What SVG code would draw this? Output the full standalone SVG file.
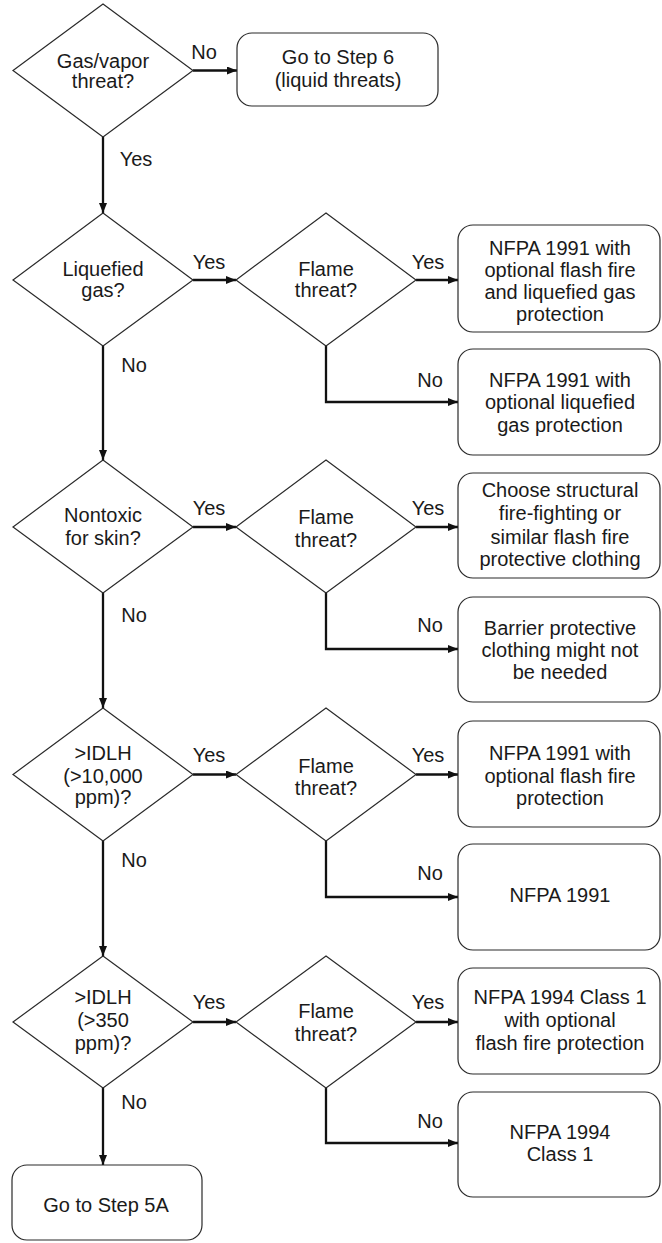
<svg xmlns="http://www.w3.org/2000/svg" width="662" height="1243" viewBox="0 0 662 1243">
  <defs>
    <marker id="arrow" markerUnits="userSpaceOnUse" markerWidth="10" markerHeight="8" refX="10" refY="4" orient="auto">
      <path d="M0,0 L10,4 L0,8 Z" fill="#111"/>
    </marker>
    <style>
      .shape { fill: #fff; stroke: #2a2a2a; stroke-width: 1.2; }
      .conn { fill: none; stroke: #111; stroke-width: 2.3; marker-end: url(#arrow); }
      text { font-family: "Liberation Sans", Arial, sans-serif; font-size: 20px; fill: #1a1a1a; text-anchor: middle; }
    </style>
  </defs>
  <rect width="662" height="1243" fill="#fff"/>

  <!-- connectors -->
  <g id="connectors">
    <line class="conn" x1="193" y1="70.5" x2="237" y2="70.5"/>
    <text x="204" y="59">No</text>
    <line class="conn" x1="103" y1="137" x2="103" y2="213"/>
    <text x="136" y="166">Yes</text>

    <line class="conn" x1="193" y1="280" x2="236" y2="280"/>
    <text x="209" y="269">Yes</text>
    <line class="conn" x1="416" y1="280" x2="458" y2="280"/>
    <text x="428" y="269">Yes</text>
    <path class="conn" d="M326,346 V402 H458"/>
    <text x="430" y="387">No</text>
    <line class="conn" x1="103" y1="346" x2="103" y2="460"/>
    <text x="134" y="372">No</text>

    <line class="conn" x1="193" y1="527" x2="236" y2="527"/>
    <text x="209" y="515">Yes</text>
    <line class="conn" x1="416" y1="527" x2="458" y2="527"/>
    <text x="428" y="515">Yes</text>
    <path class="conn" d="M326,593 V649 H458"/>
    <text x="430" y="632">No</text>
    <line class="conn" x1="103" y1="593" x2="103" y2="708"/>
    <text x="134" y="622">No</text>

    <line class="conn" x1="193" y1="774.5" x2="236" y2="774.5"/>
    <text x="209" y="762">Yes</text>
    <line class="conn" x1="416" y1="774.5" x2="458" y2="774.5"/>
    <text x="428" y="762">Yes</text>
    <path class="conn" d="M326,841 V897 H458"/>
    <text x="430" y="880">No</text>
    <line class="conn" x1="103" y1="841" x2="103" y2="956"/>
    <text x="134" y="867">No</text>

    <line class="conn" x1="193" y1="1022" x2="236" y2="1022"/>
    <text x="209" y="1009">Yes</text>
    <line class="conn" x1="416" y1="1022" x2="458" y2="1022"/>
    <text x="428" y="1009">Yes</text>
    <path class="conn" d="M326,1088 V1143 H458"/>
    <text x="430" y="1128">No</text>
    <line class="conn" x1="103" y1="1088" x2="103" y2="1165"/>
    <text x="134" y="1109">No</text>
  </g>

  <!-- decision: gas/vapor -->
  <g id="d-gas">
    <polygon class="shape" points="103,4 193,70.5 103,137 13,70.5"/>
    <text x="103" y="68">Gas/vapor</text>
    <text x="103" y="88">threat?</text>
  </g>
  <g id="t-step6">
    <rect class="shape" x="237" y="33" width="201" height="73" rx="15"/>
    <text x="338" y="64">Go to Step 6</text>
    <text x="338" y="87">(liquid threats)</text>
  </g>

  <!-- row: liquefied gas -->
  <g id="d-liquefied">
    <polygon class="shape" points="103,213 193,280 103,346 13,280"/>
    <text x="103" y="276">Liquefied</text>
    <text x="103" y="297">gas?</text>
  </g>
  <g id="d-flame1">
    <polygon class="shape" points="326,213 416,280 326,346 236,280"/>
    <text x="326" y="276">Flame</text>
    <text x="326" y="297">threat?</text>
  </g>
  <g id="r-1991-flash-liq">
    <rect class="shape" x="458" y="225" width="202" height="107" rx="15"/>
    <text x="560" y="255">NFPA 1991 with</text>
    <text x="560" y="277">optional flash fire</text>
    <text x="560" y="299">and liquefied gas</text>
    <text x="560" y="321">protection</text>
  </g>
  <g id="r-1991-liq">
    <rect class="shape" x="458" y="349" width="202" height="106" rx="15"/>
    <text x="560" y="387">NFPA 1991 with</text>
    <text x="560" y="409">optional liquefied</text>
    <text x="560" y="432">gas protection</text>
  </g>

  <!-- row: nontoxic -->
  <g id="d-nontoxic">
    <polygon class="shape" points="103,460 193,527 103,593 13,527"/>
    <text x="103" y="522">Nontoxic</text>
    <text x="103" y="545">for skin?</text>
  </g>
  <g id="d-flame2">
    <polygon class="shape" points="326,460 416,527 326,593 236,527"/>
    <text x="326" y="524">Flame</text>
    <text x="326" y="547">threat?</text>
  </g>
  <g id="r-structural">
    <rect class="shape" x="458" y="473" width="202" height="105" rx="15"/>
    <text x="560" y="497">Choose structural</text>
    <text x="560" y="520">fire-fighting or</text>
    <text x="560" y="544">similar flash fire</text>
    <text x="560" y="566">protective clothing</text>
  </g>
  <g id="r-barrier">
    <rect class="shape" x="458" y="597" width="202" height="105" rx="15"/>
    <text x="560" y="635">Barrier protective</text>
    <text x="560" y="657">clothing might not</text>
    <text x="560" y="679">be needed</text>
  </g>

  <!-- row: >IDLH 10,000 ppm -->
  <g id="d-idlh10000">
    <polygon class="shape" points="103,708 193,774.5 103,841 13,774.5"/>
    <text x="103" y="760">&gt;IDLH</text>
    <text x="103" y="783">(&gt;10,000</text>
    <text x="103" y="804">ppm)?</text>
  </g>
  <g id="d-flame3">
    <polygon class="shape" points="326,708 416,774.5 326,841 236,774.5"/>
    <text x="326" y="773">Flame</text>
    <text x="326" y="795">threat?</text>
  </g>
  <g id="r-1991-flash">
    <rect class="shape" x="458" y="721" width="202" height="106" rx="15"/>
    <text x="560" y="760">NFPA 1991 with</text>
    <text x="560" y="783">optional flash fire</text>
    <text x="560" y="805">protection</text>
  </g>
  <g id="r-1991">
    <rect class="shape" x="458" y="844" width="202" height="106" rx="15"/>
    <text x="560" y="902">NFPA 1991</text>
  </g>

  <!-- row: >IDLH 350 ppm -->
  <g id="d-idlh350">
    <polygon class="shape" points="103,956 193,1022 103,1088 13,1022"/>
    <text x="103" y="1004">&gt;IDLH</text>
    <text x="103" y="1027">(&gt;350</text>
    <text x="103" y="1050">ppm)?</text>
  </g>
  <g id="d-flame4">
    <polygon class="shape" points="326,956 416,1022 326,1088 236,1022"/>
    <text x="326" y="1018">Flame</text>
    <text x="326" y="1041">threat?</text>
  </g>
  <g id="r-1994-flash">
    <rect class="shape" x="458" y="968" width="202" height="106" rx="15"/>
    <text x="560" y="1004">NFPA 1994 Class 1</text>
    <text x="560" y="1027">with optional</text>
    <text x="560" y="1050">flash fire protection</text>
  </g>
  <g id="r-1994">
    <rect class="shape" x="458" y="1092" width="202" height="105" rx="15"/>
    <text x="560" y="1139">NFPA 1994</text>
    <text x="560" y="1161">Class 1</text>
  </g>
  <g id="t-step5a">
    <rect class="shape" x="12" y="1165" width="190" height="75" rx="15"/>
    <text x="106" y="1212">Go to Step 5A</text>
  </g>
</svg>
